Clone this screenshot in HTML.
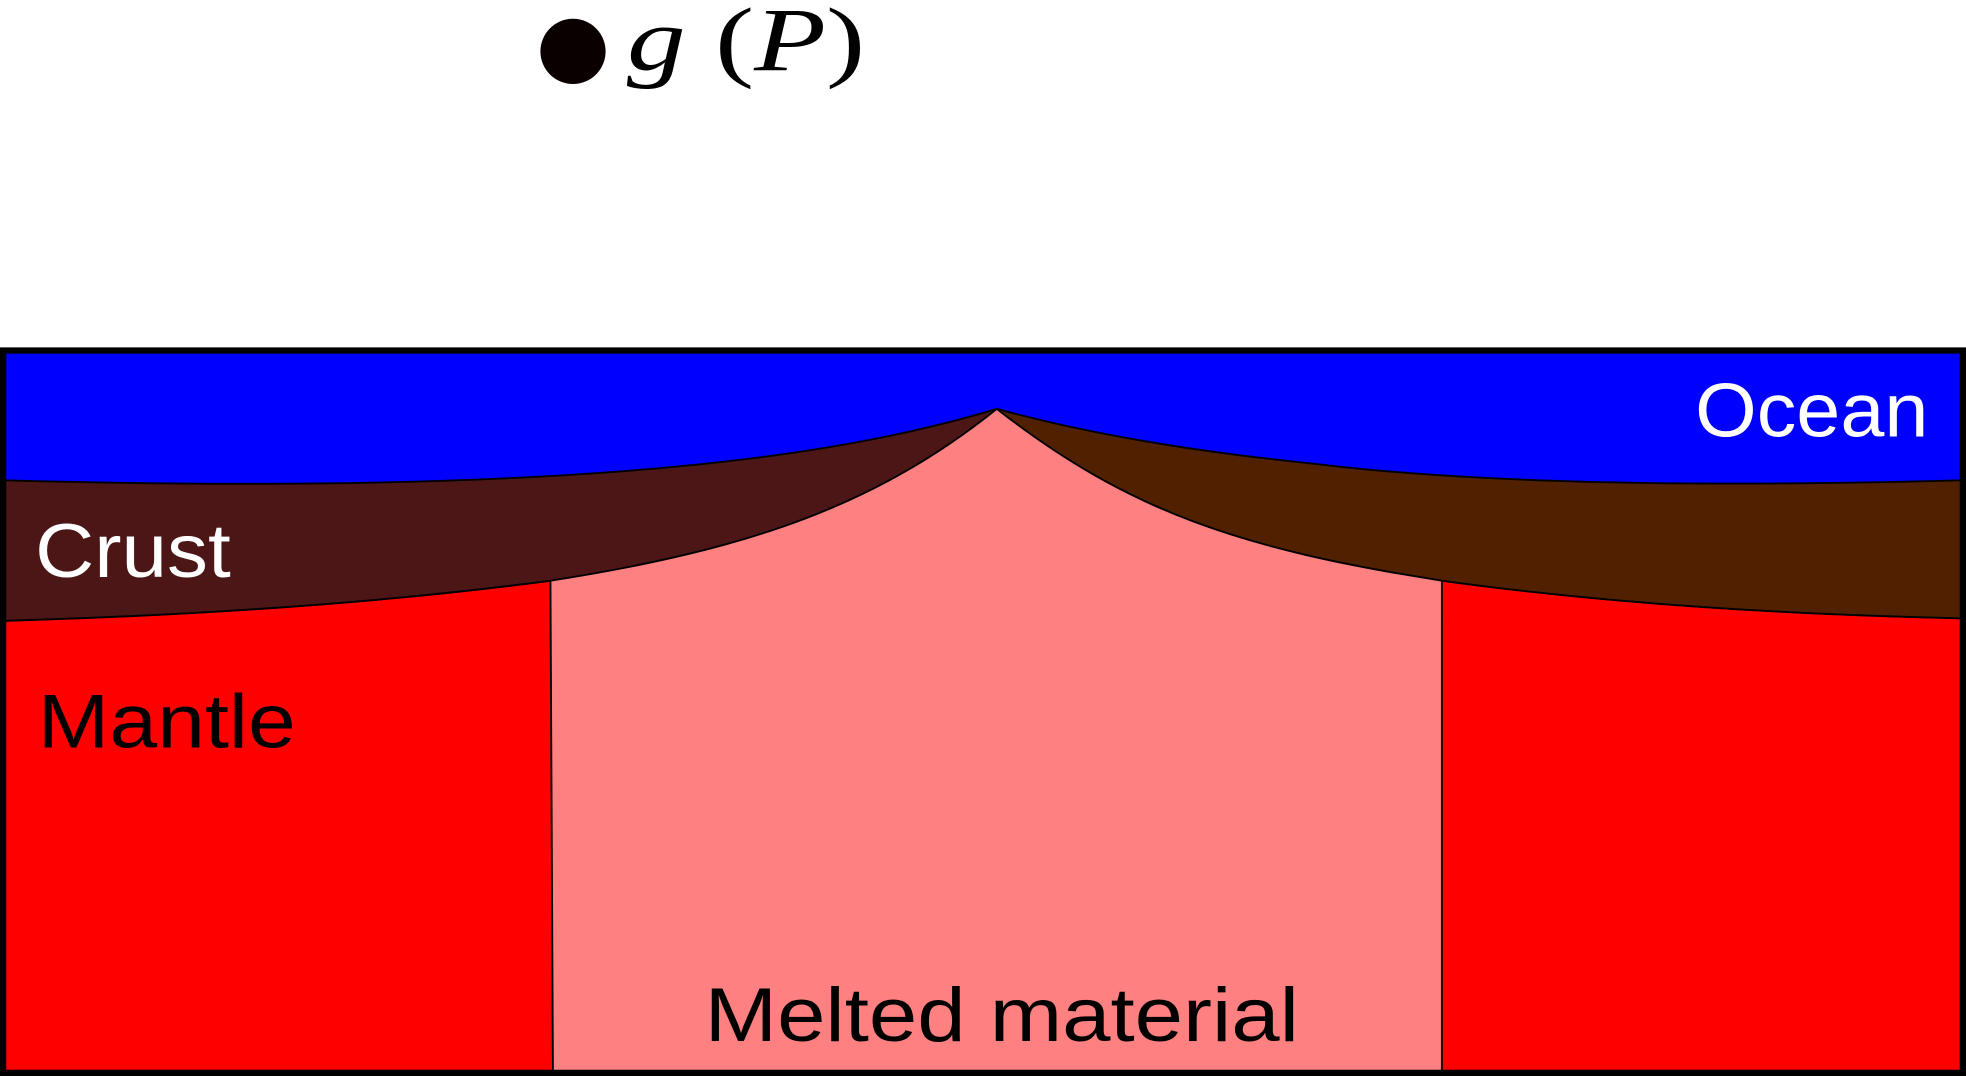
<!DOCTYPE html>
<html><head><meta charset="utf-8"><style>
html,body{margin:0;padding:0;background:#fff;}
svg{display:block;}
</style></head><body>
<svg width="1966" height="1076" viewBox="0 0 1568 858" preserveAspectRatio="none" xmlns="http://www.w3.org/2000/svg">
<g>
<circle cx="457" cy="41" r="26" fill="#0a0000"/>
<text x="500" y="56" font-family="Liberation Serif, serif" font-size="72" font-style="italic" fill="#000" textLength="190" lengthAdjust="spacingAndGlyphs">g <tspan font-style="normal">(</tspan>P<tspan font-style="normal">)</tspan></text>
</g>
<rect x="4" y="281" width="1560" height="574" fill="#ff8080"/>
<path d="M4,495 Q250,488 439,463 L441,855 L4,855 Z" fill="#ff0000" stroke="#000" stroke-width="1.5"/>
<path d="M1150,463 Q1330,488 1564,493 L1564,855 L1150,855 Z" fill="#ff0000" stroke="#000" stroke-width="1.5"/>
<path d="M4,383 L795,326 C700,402 600,438 439,463 Q250,488 4,495 Z" fill="#4d1616" stroke="#000" stroke-width="1.5"/>
<path d="M795,326 L1564,383 L1564,493 Q1330,488 1150,463 C990,438 900,408 795,326 Z" fill="#502000" stroke="#000" stroke-width="1.5"/>
<path d="M4,281 L1564,281 L1564,383 Q1230,392 1050,370 Q900,355 795,326 Q690,358 540,372 Q330,392 4,383 Z" fill="#0000ff" stroke="#000" stroke-width="1.5"/>
<rect x="2.5" y="279.5" width="1563" height="576" fill="none" stroke="#000" stroke-width="5"/>
<text x="1352" y="348" font-family="Liberation Sans, sans-serif" font-size="61" fill="#fff" textLength="186" lengthAdjust="spacingAndGlyphs">Ocean</text>
<text x="28" y="460" font-family="Liberation Sans, sans-serif" font-size="61" fill="#fff" textLength="156" lengthAdjust="spacingAndGlyphs">Crust</text>
<text x="30" y="596" font-family="Liberation Sans, sans-serif" font-size="61" fill="#000" textLength="206" lengthAdjust="spacingAndGlyphs">Mantle</text>
<text x="562" y="830" font-family="Liberation Sans, sans-serif" font-size="61" fill="#000" textLength="474" lengthAdjust="spacingAndGlyphs">Melted material</text>
</svg>
</body></html>
